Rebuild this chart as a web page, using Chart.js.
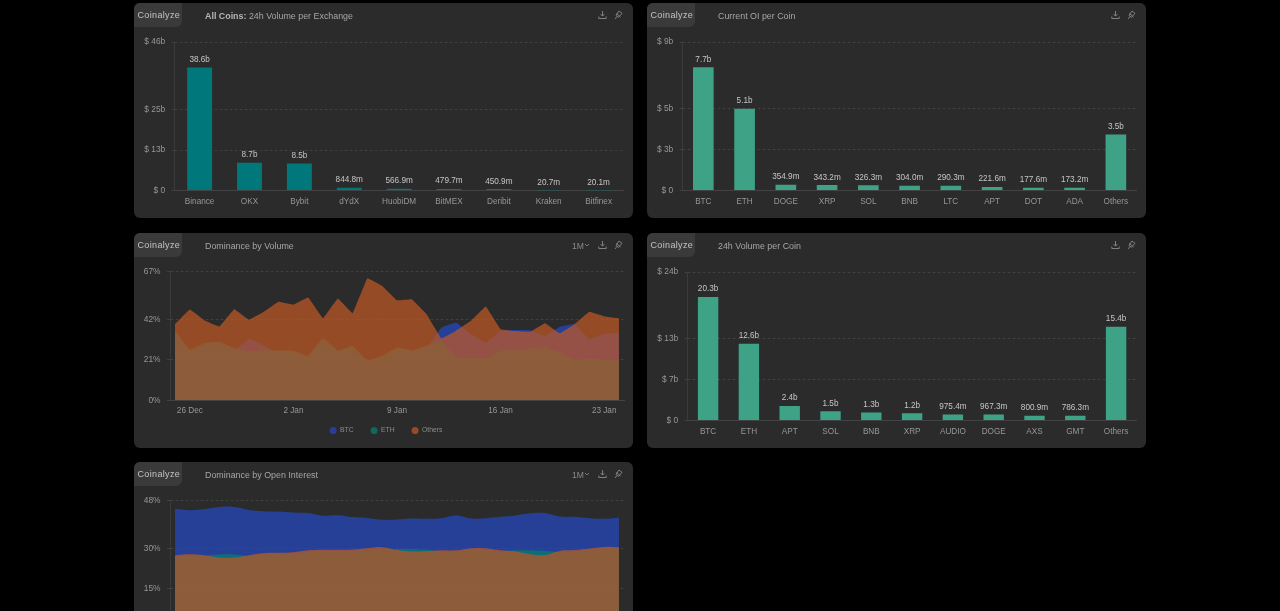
<!DOCTYPE html>
<html>
<head>
<meta charset="utf-8">
<title>Coinalyze Dashboard</title>
<script src="https://cdn.jsdelivr.net/npm/chart.js@4/dist/chart.umd.min.js"></script>
<style>
    html, body { margin: 0; height: 100%; background: #000; overflow: hidden; font-family: "Liberation Sans", Arial, sans-serif; }
    .panel { position: absolute; width: 499px; height: 215px; background: #2b2b2b; border-radius: 6px; }
    .panel canvas { position: absolute; left: 0; top: 0; }
    .logo { position: absolute; left: 0; top: 0; width: 48px; height: 24px; line-height: 24px; padding-left: 3.5px; box-sizing: border-box;
            background: #3a3a3a; border-radius: 6px 0 6px 0; color: #c4c4c4; font-size: 9px; font-weight: 500; letter-spacing: 0.35px; white-space: nowrap; }
    .title { position: absolute; left: 71px; top: 7px; color: #a6a6a6; font-size: 8.9px; line-height: 12px; white-space: nowrap; }
    .title b { color: #b4b4b4; }
    .range { position: absolute; left: 438px; top: 6.5px; color: #8a8a8a; font-size: 8.6px; line-height: 12px; }
    .range svg { position: absolute; left: 12px; top: 3px; }
    .icon { position: absolute; top: 7px; }
</style>
</head>
<body>
<div id="page"></div>
<script>
// Bar chart data
const exchanges = ['Binance', 'OKX', 'Bybit', 'dYdX', 'HuobiDM', 'BitMEX', 'Deribit', 'Kraken', 'Bitfinex'];
const exchangeVolume = [38.6, 8.7, 8.5, 0.8448, 0.5669, 0.4797, 0.4509, 0.0207, 0.0201];
const exchangeTicks = [0, 12.7, 25.3, 46.6];
const exchangeTickLabels = ['$ 0', '$ 13b', '$ 25b', '$ 46b'];

const oiCoins = ['BTC', 'ETH', 'DOGE', 'XRP', 'SOL', 'BNB', 'LTC', 'APT', 'DOT', 'ADA', 'Others'];
const oiValues = [7.7, 5.1, 0.3549, 0.3432, 0.3263, 0.304, 0.2903, 0.2216, 0.1776, 0.1732, 3.5];
const oiTicks = [0, 2.54, 5.1, 9.27];
const oiTickLabels = ['$ 0', '$ 3b', '$ 5b', '$ 9b'];

const volCoins = ['BTC', 'ETH', 'APT', 'SOL', 'BNB', 'XRP', 'AUDIO', 'DOGE', 'AXS', 'GMT', 'Others'];
const volValues = [20.3, 12.6, 2.4, 1.5, 1.3, 1.2, 0.9754, 0.9673, 0.8009, 0.7863, 15.4];
const volTicks = [0, 6.68, 13.4, 24.4];
const volTickLabels = ['$ 0', '$ 7b', '$ 13b', '$ 24b'];

// Dominance data, one value per day from 25 Dec to 24 Jan
const dateTicks = [1, 8, 15, 22, 29];
const dateLabels = ['26 Dec', '2 Jan', '9 Jan', '16 Jan', '23 Jan'];

const domVolBtc = [33.6, 24, 27.5, 28.4, 25.8, 31.8, 28.4, 24, 23.5, 21.5, 28.4, 24, 25.8, 18.9, 20.6, 24.9, 24, 26.6, 37.9, 40.5, 34.4, 29.8, 36.2, 36.5, 36.5, 33.2, 38.2, 39.6, 31.8, 34.4, 35.3];
const domVolEth = [36.2, 26.3, 29.8, 30.4, 27, 25.3, 26.3, 25.8, 25.8, 23.2, 32.2, 25.8, 28.4, 20.6, 23.2, 27.5, 25.8, 28.4, 31, 22.3, 21.8, 21.8, 25.8, 26.3, 27, 27.5, 24.9, 21.1, 21.5, 21.1, 20.6];
const domVolOthers = [39.6, 47.2, 41.5, 38.4, 47.4, 41.9, 46, 51.2, 49.7, 53.4, 42.6, 52.9, 45.3, 63.5, 59.5, 52, 52.6, 44.8, 32.2, 36.2, 41.3, 48.8, 37, 36, 35.6, 40.1, 34.9, 39.6, 46, 43.6, 42.7];
const domVolTicks = [0, 21, 42, 67];

const domOiBtc = [44.9, 44.4, 44.8, 45.6, 45.6, 44.5, 44, 43.9, 43.5, 43.3, 42.3, 42.5, 41.8, 41.5, 40.8, 40.9, 41.3, 41.2, 41.4, 42.4, 41.3, 41.4, 41.9, 42.4, 43.2, 43.3, 42, 41.9, 41.4, 41.2, 41.7];
const domOiEth = [27.1, 27.5, 27.4, 27.9, 27.9, 27.4, 27.9, 28, 28.2, 28.9, 29.1, 29.1, 29.2, 29.7, 30.1, 29.9, 29.9, 29.6, 28.9, 29, 29.7, 29.7, 29, 29.4, 29.4, 29.2, 28.9, 29, 29.6, 30.2, 30.1];
const domOiOthers = [27.6, 28, 27.6, 26.7, 26.7, 27.6, 28.4, 28.5, 28.7, 29.4, 29.6, 29.6, 29.7, 30.2, 30.6, 29.5, 29, 29.1, 29.4, 29.4, 30.2, 30.2, 29.4, 29, 28, 27.7, 29.2, 29.5, 30.1, 30.7, 30.6];
const domOiTicks = [0, 15, 30, 48];

const FONT = '"Liberation Sans", Arial, sans-serif';
const TICK_COLOR = '#979797';
const GRID_COLOR = '#474747';

const downloadIcon = '<svg class="icon" style="left:464px" width="9" height="10" viewBox="0 0 9 10" fill="none" stroke="#8a8a8a" stroke-width="0.9"><path d="M4.5 1v5M2.6 4.2l1.9 1.9 1.9-1.9M0.8 6.5v2h7.4v-2"/></svg>';
const pinIcon = '<svg class="icon" style="left:480px" width="9" height="10" viewBox="0 0 9 10" fill="none" stroke="#8a8a8a" stroke-width="0.9"><path d="M5 1l3 2.4-3.6 4-2.4-2zM1 9l2-2.6M2.5 3.5l4 3.5"/></svg>';
const rangeLabel = '<div class="range">1M<svg width="6" height="5" viewBox="0 0 6 5" fill="none" stroke="#8a8a8a" stroke-width="0.8"><path d="M1 1l2 2 2-2"/></svg></div>';

// Create the panel frame and return its canvas
function createPanel(left, top, titleHtml, hasRange, canvasHeight) {
    const panel = document.createElement('div');
    panel.className = 'panel';
    panel.style.left = left + 'px';
    panel.style.top = top + 'px';
    panel.innerHTML = `
        <canvas width="499" height="${canvasHeight}" style="width:499px;height:${canvasHeight}px"></canvas>
        <div class="logo">Coinalyze</div>
        <div class="title">${titleHtml}</div>
        ${hasRange ? rangeLabel : ''}
        ${downloadIcon}${pinIcon}`;
    document.getElementById('page').appendChild(panel);
    return panel.querySelector('canvas');
}

// Format a value in billions the way the bar labels show it
function formatVolume(value) {
    return value >= 1 ? value.toFixed(1) + 'b' : (value * 1000).toFixed(1) + 'm';
}

// Draws the value above each bar
const barValuePlugin = {
    id: 'barValues',
    afterDatasetsDraw(chart) {
        const ctx = chart.ctx;
        const meta = chart.getDatasetMeta(0);
        ctx.save();
        ctx.font = '8.2px ' + FONT;
        ctx.fillStyle = '#c6c6c6';
        ctx.textAlign = 'center';
        ctx.textBaseline = 'alphabetic';
        meta.data.forEach((bar, i) => {
            ctx.fillText(formatVolume(chart.data.datasets[0].data[i]), bar.x, bar.y - 5.5);
        });
        ctx.restore();
    }
};

// The date axis box is kept short so the legend sits close; let its labels draw past the box
// and move the legend over a little to make up for its trailing padding
const areaLayoutPlugin = {
    id: 'areaLayout',
    afterLayout(chart) {
        chart.scales.x.bottom += 20;
        chart.legend.left += 7;
        chart.legend.right += 7;
    }
};

function yScale(ticks, labels, axisLeft) {
    return {
        min: ticks[0],
        max: ticks[ticks.length - 1],
        afterBuildTicks: axis => { axis.ticks = ticks.map(value => ({ value })); },
        afterFit: axis => { axis.width = axisLeft; },
        ticks: {
            autoSkip: false,
            color: TICK_COLOR,
            font: { family: FONT, size: 8.4 },
            padding: 6.5,
            callback: (value, i) => labels[i]
        },
        grid: {
            color: ctx => (ctx.tick.value === 0 ? 'transparent' : GRID_COLOR),
            tickColor: GRID_COLOR,
            tickLength: 3,
            lineWidth: 0.8
        },
        border: { color: '#404040', width: 0.8, dash: [2.5, 2.5] }
    };
}

function createBarChart(left, top, title, categories, values, ticks, tickLabels, axisLeft, color) {
    const canvas = createPanel(left, top, title, false, 215);
    return new Chart(canvas, {
        type: 'bar',
        data: {
            labels: categories,
            datasets: [{ data: values, backgroundColor: color, categoryPercentage: 1, barPercentage: 0.5 }]
        },
        options: {
            responsive: false,
            animation: false,
            layout: { padding: { top: 39, right: 9.5, bottom: 0, left: 0 }, autoPadding: false },
            plugins: { legend: { display: false }, tooltip: { enabled: false } },
            scales: {
                x: {
                    afterFit: axis => { axis.height = 27.5; },
                    ticks: { autoSkip: false, maxRotation: 0, color: TICK_COLOR, font: { family: FONT, size: 8.2 }, padding: 6 },
                    grid: { display: false, drawTicks: false },
                    border: { color: '#4a4a4a', width: 0.8 }
                },
                y: yScale(ticks, tickLabels, axisLeft)
            }
        },
        plugins: [barValuePlugin]
    });
}

function toPoints(values) {
    return values.map((y, x) => ({ x, y }));
}

function areaDataset(label, values, color, fill, order, tension) {
    return {
        label,
        data: toPoints(values),
        backgroundColor: fill,
        borderColor: color,
        borderWidth: 0,
        pointRadius: 0,
        fill: 'origin',
        tension,
        order
    };
}

function createAreaChart(left, top, title, btc, eth, others, ticks, tension) {
    const canvas = createPanel(left, top, title, true, 211);
    const tickLabels = ticks.map(t => t + '%');
    return new Chart(canvas, {
        type: 'line',
        data: {
            datasets: [
                areaDataset('BTC', btc, '#2445a8', 'rgba(36,72,190,0.73)', 3, tension),
                areaDataset('ETH', eth, '#0c8a6c', 'rgba(5,125,110,0.75)', 2, tension),
                areaDataset('Others', others, '#b55a30', 'rgba(190,88,38,0.73)', 1, tension)
            ]
        },
        options: {
            responsive: false,
            animation: false,
            layout: { padding: { top: 38.5, right: 9, bottom: 0, left: 0 }, autoPadding: false },
            plugins: {
                tooltip: { enabled: false },
                legend: {
                    position: 'bottom',
                    labels: {
                        usePointStyle: true,
                        pointStyle: 'circle',
                        pointStyleWidth: 7,
                        boxWidth: 7,
                        boxHeight: 5,
                        padding: 17,
                        color: '#8c8c8c',
                        font: { family: FONT, size: 6.8 },
                        sort: (a, b) => a.datasetIndex - b.datasetIndex
                    }
                }
            },
            scales: {
                x: {
                    type: 'linear',
                    min: -0.34,
                    max: 30.34,
                    afterBuildTicks: axis => { axis.ticks = dateTicks.map(value => ({ value })); },
                    afterFit: axis => { axis.height = 10; },
                    ticks: {
                        autoSkip: false,
                        maxRotation: 0,
                        color: TICK_COLOR,
                        font: { family: FONT, size: 8.2 },
                        padding: 6,
                        callback: (value, i) => dateLabels[i]
                    },
                    grid: { display: false, drawTicks: false },
                    border: { color: '#4a4a4a', width: 0.8 }
                },
                y: yScale(ticks, tickLabels, 36)
            }
        },
        plugins: [areaLayoutPlugin]
    });
}

createBarChart(134, 3, '<b>All Coins:</b> 24h Volume per Exchange', exchanges, exchangeVolume, exchangeTicks, exchangeTickLabels, 40.7, '#00777a');
createBarChart(647, 3, 'Current OI per Coin', oiCoins, oiValues, oiTicks, oiTickLabels, 35.7, '#3ea386');
createBarChart(647, 233, '24h Volume per Coin', volCoins, volValues, volTicks, volTickLabels, 40.7, '#3ea386');
createAreaChart(134, 233, 'Dominance by Volume', domVolBtc, domVolEth, domVolOthers, domVolTicks, 0.05);
createAreaChart(134, 462, 'Dominance by Open Interest', domOiBtc, domOiEth, domOiOthers, domOiTicks, 0.4);
</script>
</body>
</html>
